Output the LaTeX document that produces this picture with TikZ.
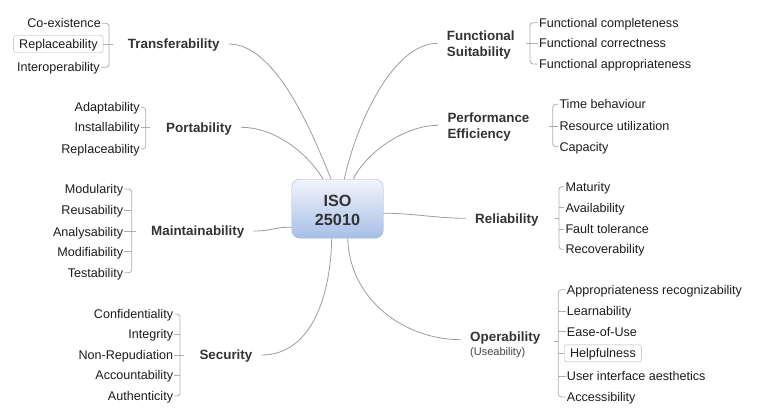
\documentclass[tikz,border=0pt]{standalone}
\usepackage{fontspec}
\setmainfont{Liberation Sans}
\usepackage{tikz}
\usetikzlibrary{positioning}

\definecolor{linegray}{HTML}{9C9C9C}
\definecolor{bracegray}{HTML}{AEAEAE}
\definecolor{boxline}{HTML}{B4B4B4}
\definecolor{topictext}{HTML}{333333}
\definecolor{leaftext}{HTML}{1C1C1C}
\definecolor{notetext}{HTML}{444444}
\definecolor{rootline}{HTML}{A3B3CD}
\definecolor{roottop}{HTML}{F2F5FB}
\definecolor{rootbottom}{HTML}{A6BEE6}

\tikzstyle{root} = [rectangle, rounded corners=8pt, draw=rootline, top color=roottop, bottom color=rootbottom, minimum width=91.5pt, minimum height=59pt, align=center, text height=32.6pt, text depth=0pt, text=topictext, font=\fontsize{16.2}{19}\selectfont\bfseries]
\tikzstyle{topic} = [inner xsep=9pt, inner ysep=0pt, text height=9.6pt, text depth=0pt, text=topictext, font=\fontsize{13.4}{16.3}\selectfont\bfseries]
\tikzstyle{topictwo} = [inner xsep=9pt, inner ysep=0pt, align=left, text=topictext, font=\fontsize{13.4}{16.3}\selectfont\bfseries]
\tikzstyle{note} = [inner xsep=9pt, inner ysep=0pt, text height=8pt, text depth=0pt, text=notetext, font=\fontsize{11}{13}\selectfont]
\tikzstyle{leaf} = [inner xsep=1pt, inner ysep=0pt, text height=9pt, text depth=0pt, text=leaftext, font=\fontsize{12.6}{15}\selectfont]
\tikzstyle{leafbox} = [leaf, draw=boxline, rounded corners=2pt, inner xsep=5.5pt, minimum height=17pt]
\tikzstyle{branch} = [draw=linegray, line width=0.8pt]
\tikzstyle{brace} = [draw=bracegray, line width=0.8pt, rounded corners=3pt]

\begin{document}
\begin{tikzpicture}[x=1pt, y=-1pt]
\useasboundingbox (0,0) rectangle (759,418);

\node (iso) [root] at (337.5,208.7) {ISO\\25010};

% main characteristics
\node (trans) [topic, anchor=west] at (118.7,44) {Transferability};
\node (port) [topic, anchor=west] at (157,127.3) {Portability};
\node (maint) [topic, anchor=west] at (142,231) {Maintainability};
\node (secu) [topic, anchor=west] at (190.3,355) {Security};
\node (funs) [topictwo, anchor=west] at (437.7,45.3) {Functional\\Suitability};
\node (perf) [topictwo, anchor=west] at (438.3,127.3) {Performance\\Efficiency};
\node (reli) [topic, anchor=west] at (466,218.3) {Reliability};
\node (oper) [topic, anchor=west] at (461,336.7) {Operability};
\node (useab) [note, below=6pt of oper.south west, anchor=north west] {(Useability)};

% transferability
\node (tr1) [leaf, anchor=east] at (102,23.3) {Co-existence};
\node (tr2) [leafbox, anchor=east] at (103.3,44) {Replaceability};
\node (tr3) [leaf, anchor=east] at (101,67.3) {Interoperability};
\coordinate (trb) at (109,44);

% portability
\node (po1) [leaf, anchor=east] at (141,107.3) {Adaptability};
\node (po2) [leaf, anchor=east] at (141,127.3) {Installability};
\node (po3) [leaf, anchor=east] at (141,149) {Replaceability};
\coordinate (pob) at (145.7,127.3);

% maintainability
\node (ma1) [leaf, anchor=east] at (124.3,189) {Modularity};
\node (ma2) [leaf, anchor=east] at (124.3,210) {Reusability};
\node (ma3) [leaf, anchor=east] at (124.3,231.7) {Analysability};
\node (ma4) [leaf, anchor=east] at (124.3,251.7) {Modifiability};
\node (ma5) [leaf, anchor=east] at (124.3,272.7) {Testability};
\coordinate (mab) at (131.7,231.7);

% security
\node (se1) [leaf, anchor=east] at (174.3,314) {Confidentiality};
\node (se2) [leaf, anchor=east] at (174.3,334.3) {Integrity};
\node (se3) [leaf, anchor=east] at (174.3,355) {Non-Repudiation};
\node (se4) [leaf, anchor=east] at (174.3,375) {Accountability};
\node (se5) [leaf, anchor=east] at (174.3,396) {Authenticity};
\coordinate (seb) at (180,355);

% functional suitability
\node (fs1) [leaf, anchor=west] at (538,22.7) {Functional completeness};
\node (fs2) [leaf, anchor=west] at (538,43.3) {Functional correctness};
\node (fs3) [leaf, anchor=west] at (538,64) {Functional appropriateness};
\coordinate (fsb) at (530,43.3);

% performance efficiency
\node (pe1) [leaf, anchor=west] at (558.3,104.3) {Time behaviour};
\node (pe2) [leaf, anchor=west] at (558.3,126) {Resource utilization};
\node (pe3) [leaf, anchor=west] at (558.3,146.7) {Capacity};
\coordinate (peb) at (552.8,126);

% reliability
\node (re1) [leaf, anchor=west] at (564.3,186.7) {Maturity};
\node (re2) [leaf, anchor=west] at (564.3,207.7) {Availability};
\node (re3) [leaf, anchor=west] at (564.3,229.3) {Fault tolerance};
\node (re4) [leaf, anchor=west] at (564.3,249.3) {Recoverability};
\coordinate (reb) at (559,218);

% operability
\node (op1) [leaf, anchor=west] at (565.7,289.7) {Appropriateness recognizability};
\node (op2) [leaf, anchor=west] at (565.7,311) {Learnability};
\node (op3) [leaf, anchor=west] at (565.7,331.7) {Ease-of-Use};
\node (op4) [leafbox, anchor=west] at (564.3,353.3) {Helpfulness};
\node (op5) [leaf, anchor=west] at (565.7,376) {User interface aesthetics};
\node (op6) [leaf, anchor=west] at (565.7,397) {Accessibility};
\coordinate (opb) at (558.3,341);

% branches
\draw [branch] ([xshift=-6.5pt]iso.north) .. controls +(-22,-55) and +(45,0) .. (trans.east);
\draw [branch] ([xshift=-14.5pt]iso.north) .. controls +(-15,-25) and +(35,0) .. (port.east);
\draw [branch] ([yshift=-18.5pt]iso.west) .. controls +(-20,0) and +(20,0) .. (maint.east);
\draw [branch] ([xshift=-5.8pt]iso.south) .. controls +(-1,57) and +(50,0) .. (secu.east);
\draw [branch] ([xshift=6.8pt]iso.north) .. controls +(12,-55) and +(-45,0) .. ([yshift=2pt]funs.west);
\draw [branch] ([xshift=15.8pt]iso.north) .. controls +(12,-25) and +(-35,0) .. ([yshift=2pt]perf.west);
\draw [branch] ([yshift=-4.5pt]iso.east) .. controls +(30,0) and +(-30,0) .. (reli.west);
\draw [branch] ([xshift=10.2pt]iso.south) .. controls +(2,62) and +(-56,0) .. ([yshift=-3pt]oper.west);

% brackets
\draw [brace] (tr1.east) -| (trb) |- (tr3.east);
\draw [brace] (tr2.east) -- ([xshift=4pt]trb);
\draw [brace] (po1.east) -| (pob) |- (po3.east);
\draw [brace] (po2.east) -- ([xshift=4pt]pob);
\draw [brace] (ma1.east) -| (mab) |- (ma5.east);
\draw [brace] (ma2.east) -- (ma2.east -| mab);
\draw [brace] (ma3.east) -- ([xshift=4pt]mab);
\draw [brace] (ma4.east) -- (ma4.east -| mab);
\draw [brace] (se1.east) -| (seb) |- (se5.east);
\draw [brace] (se2.east) -- (se2.east -| seb);
\draw [brace] (se3.east) -- ([xshift=4pt]seb);
\draw [brace] (se4.east) -- (se4.east -| seb);
\draw [brace] (fs1.west) -| (fsb) |- (fs3.west);
\draw [brace] (fs2.west) -- ([xshift=-4pt]fsb);
\draw [brace] (pe1.west) -| (peb) |- (pe3.west);
\draw [brace] (pe2.west) -- ([xshift=-4pt]peb);
\draw [brace] (re1.west) -| (reb) |- (re4.west);
\draw [brace] (re2.west) -- (re2.west -| reb);
\draw [brace] (re3.west) -- (re3.west -| reb);
\draw [brace] (reb) -- ++(-4,0);
\draw [brace] (op1.west) -| (opb) |- (op6.west);
\draw [brace] (op2.west) -- (op2.west -| opb);
\draw [brace] (op3.west) -- (op3.west -| opb);
\draw [brace] (op4.west) -- (op4.west -| opb);
\draw [brace] (op5.west) -- (op5.west -| opb);
\draw [brace] (opb) -- ++(-4,0);

\end{tikzpicture}
\end{document}
